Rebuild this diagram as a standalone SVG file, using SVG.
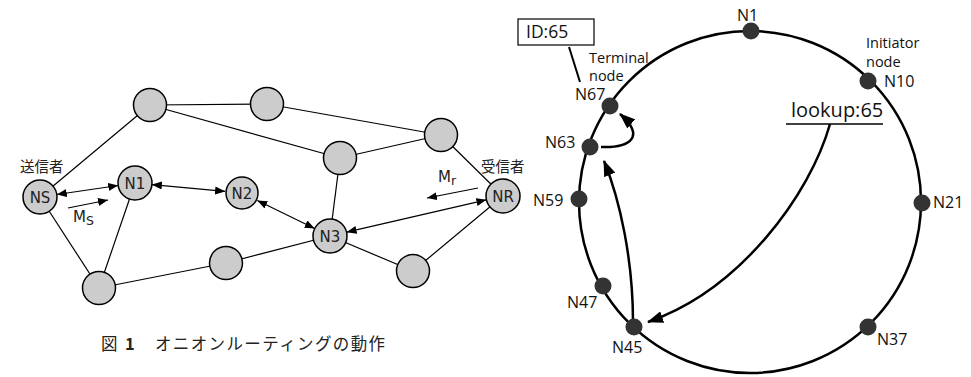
<svg xmlns="http://www.w3.org/2000/svg" width="971" height="377" viewBox="0 0 971 377">
<defs>
<style>
.e{stroke:#000;stroke-width:1.2;fill:none}
.n{fill:#cccccc;stroke:#000;stroke-width:1.5}
.t{font-family:"DejaVu Sans",Verdana,sans-serif;font-size:15px;fill:#222}
.j{font-family:"Noto Sans CJK JP",sans-serif;font-size:14.5px;fill:#222}
.cap{font-family:"Noto Sans CJK JP",sans-serif;font-size:16.5px;fill:#222}
.ring{stroke:#000;stroke-width:2.5;fill:none}
.d{fill:#333}
.r{font-family:"Open Sans","Noto Sans",sans-serif;font-size:16px;fill:#111}
.s{font-family:"Open Sans","Noto Sans",sans-serif;font-size:14.5px;fill:#111}
.big{font-family:"Open Sans","Noto Sans",sans-serif;font-size:20px;fill:#111}
.idt{font-family:"Open Sans","Noto Sans",sans-serif;font-size:17.5px;fill:#111}
</style>
<marker id="ah" viewBox="0 0 10 8" refX="10" refY="4" markerWidth="10" markerHeight="8" markerUnits="userSpaceOnUse" orient="auto-start-reverse"><path d="M0,0 L10,4 L0,8 z" fill="#000"/></marker>
<marker id="bh" viewBox="0 0 16 12" refX="15" refY="6" markerWidth="16" markerHeight="12" markerUnits="userSpaceOnUse" orient="auto"><path d="M0,0 L16,6 L0,12 z" fill="#000"/></marker>
</defs>
<g id="connectors">
<line class="e" x1="150" y1="105" x2="40" y2="197"/>
<line class="e" x1="150" y1="105" x2="267" y2="104"/>
<line class="e" x1="150" y1="105" x2="340" y2="158"/>
<line class="e" x1="267" y1="104" x2="441" y2="135"/>
<line class="e" x1="340" y1="158" x2="441" y2="135"/>
<line class="e" x1="340" y1="158" x2="330" y2="236"/>
<line class="e" x1="441" y1="135" x2="503" y2="196"/>
<line class="e" x1="40" y1="197" x2="99" y2="288"/>
<line class="e" x1="135" y1="183" x2="99" y2="288"/>
<line class="e" x1="99" y1="288" x2="226" y2="263"/>
<line class="e" x1="226" y1="263" x2="330" y2="236"/>
<line class="e" x1="330" y1="236" x2="413" y2="271"/>
<line class="e" x1="413" y1="271" x2="503" y2="196"/>
<line class="e" x1="56.8" y1="194.5" x2="118.2" y2="185.5" marker-start="url(#ah)" marker-end="url(#ah)"/>
<line class="e" x1="151.9" y1="184.6" x2="225.1" y2="191.4" marker-start="url(#ah)" marker-end="url(#ah)"/>
<line class="e" x1="257.3" y1="200.5" x2="314.7" y2="228.5" marker-start="url(#ah)" marker-end="url(#ah)"/>
<line class="e" x1="346.6" y1="232.2" x2="486.4" y2="199.8" marker-start="url(#ah)" marker-end="url(#ah)"/>
<line class="e" x1="68" y1="208" x2="108" y2="200" marker-end="url(#ah)"/>
<line class="e" x1="478" y1="188" x2="427" y2="198" marker-end="url(#ah)"/>
<line x1="569" y1="47" x2="580" y2="82" stroke="#000" stroke-width="2"/>
<line x1="786" y1="124" x2="883" y2="124" stroke="#000" stroke-width="1.5"/>
<path class="ring" d="M830,124 C810,195 740,290 648,322" marker-end="url(#bh)"/>
<path class="ring" d="M633,322 C633,260 620,200 604,161" marker-end="url(#bh)"/>
<path class="ring" d="M601,147 C630,148 646,137 620,114" marker-end="url(#bh)"/>
</g>
<g id="nA"><circle class="n" cx="150" cy="105" r="16.5"/></g>
<g id="nB"><circle class="n" cx="267" cy="104" r="16.5"/></g>
<g id="nC"><circle class="n" cx="441" cy="135" r="16.5"/></g>
<g id="nD"><circle class="n" cx="340" cy="158" r="16.5"/></g>
<g id="nBL"><circle class="n" cx="99" cy="288" r="16.5"/></g>
<g id="nBM"><circle class="n" cx="226" cy="263" r="16.5"/></g>
<g id="nBR"><circle class="n" cx="413" cy="271" r="16.5"/></g>
<g id="NS"><circle class="n" cx="40" cy="197" r="17"/><text class="t" x="40" y="202.5" text-anchor="middle">NS</text><text class="j" x="20" y="172">送信者</text></g>
<g id="N1L"><circle class="n" cx="135" cy="183" r="17"/><text class="t" x="135" y="188.5" text-anchor="middle">N1</text></g>
<g id="N2L"><circle class="n" cx="242" cy="193" r="16"/><text class="t" x="242" y="198.5" text-anchor="middle">N2</text></g>
<g id="N3L"><circle class="n" cx="330" cy="236" r="17"/><text class="t" x="330" y="241.5" text-anchor="middle">N3</text></g>
<g id="NR"><circle class="n" cx="503" cy="196" r="17"/><text class="t" x="503" y="201.5" text-anchor="middle">NR</text><text class="j" x="481" y="172">受信者</text></g>
<g id="msgs">
<text class="t" x="73" y="222">M<tspan style="font-size:12.5px" dy="3">S</tspan></text>
<text class="t" x="438" y="182">M<tspan style="font-size:12.5px" dy="3">r</tspan></text>
</g>
<g id="caption">
<text class="cap" x="101" y="350">図</text>
<text class="cap" x="125" y="350" style="font-weight:bold">1</text>
<text class="cap" x="155" y="350" textLength="230" lengthAdjust="spacing">オニオンルーティングの動作</text>
</g>
<g id="ring"><circle class="ring" cx="750" cy="202" r="171"/></g>
<g id="rN1"><circle class="d" cx="751" cy="31" r="8.5"/><text class="r" x="737" y="21">N1</text></g>
<g id="rN10"><circle class="d" cx="868" cy="81" r="8.5"/><text class="r" x="884" y="87">N10</text><text class="s" x="866" y="48">Initiator</text><text class="s" x="866" y="67">node</text></g>
<g id="rN21"><circle class="d" cx="922" cy="203" r="8.5"/><text class="r" x="933" y="208">N21</text></g>
<g id="rN37"><circle class="d" cx="868" cy="327" r="8.5"/><text class="r" x="877" y="345">N37</text></g>
<g id="rN45"><circle class="d" cx="634" cy="327" r="8.5"/><text class="r" x="612" y="353">N45</text></g>
<g id="rN47"><circle class="d" cx="603" cy="286" r="8.5"/><text class="r" x="567" y="308">N47</text></g>
<g id="rN59"><circle class="d" cx="579" cy="199" r="8.5"/><text class="r" x="533" y="206">N59</text></g>
<g id="rN63"><circle class="d" cx="590" cy="147" r="8.5"/><text class="r" x="545" y="148">N63</text></g>
<g id="rN67"><circle class="d" cx="610" cy="106" r="8.5"/><text class="r" x="575" y="100">N67</text><text class="s" x="589" y="63">Terminal</text><text class="s" x="589" y="81">node</text></g>
<g id="id65"><rect x="518" y="19" width="76" height="26" fill="#fff" stroke="#000" stroke-width="1.2"/><text class="idt" x="526" y="38">ID:65</text></g>
<g id="lookup"><text class="big" x="791" y="117">lookup:65</text></g>
</svg>
